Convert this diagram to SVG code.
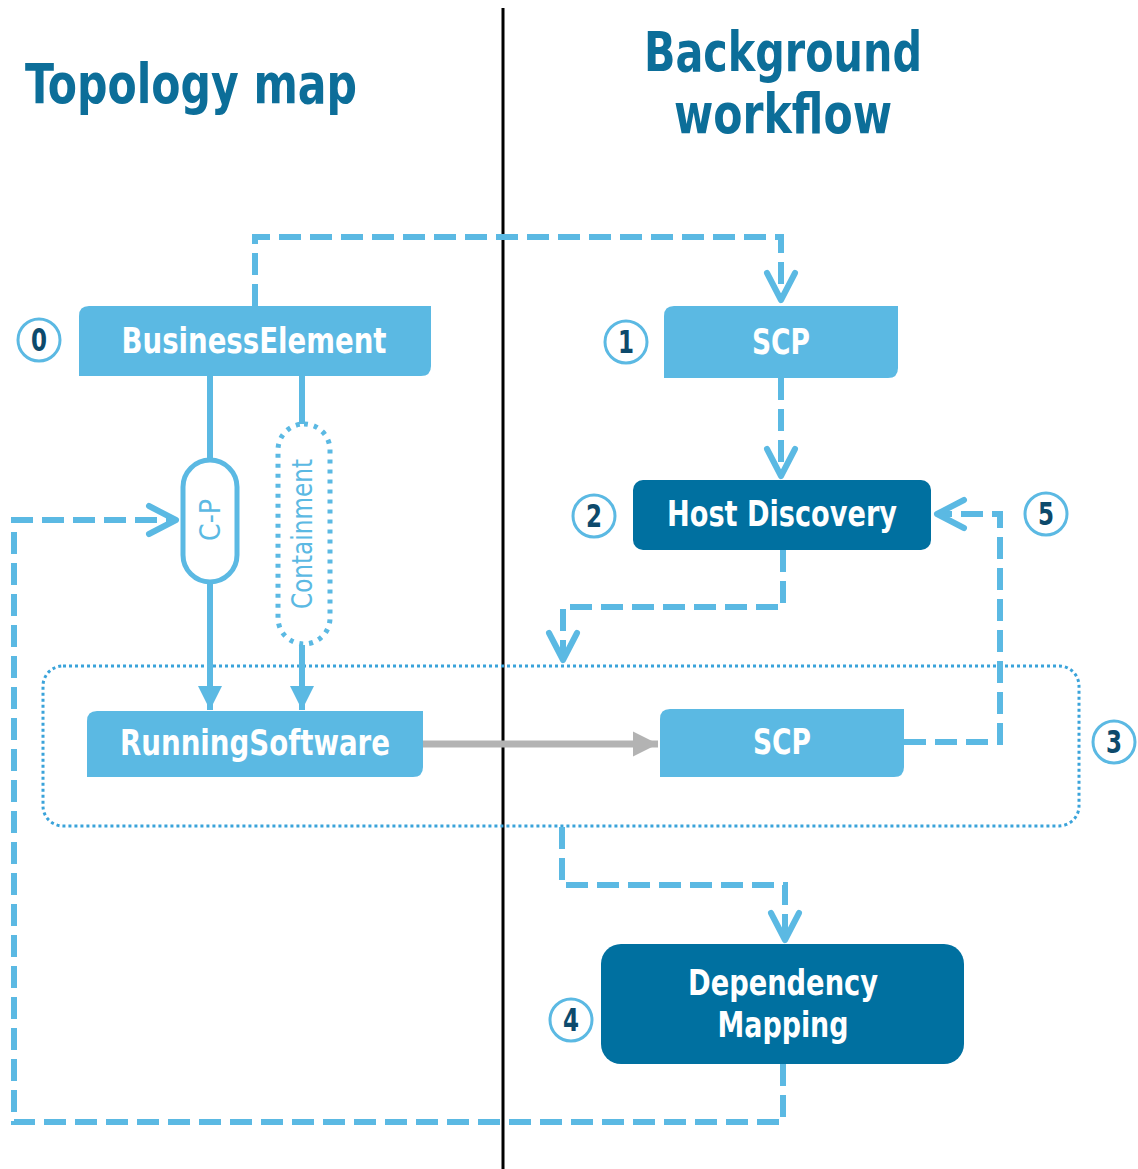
<svg xmlns="http://www.w3.org/2000/svg" width="1138" height="1169" viewBox="0 0 1138 1169">
<style>
.title{font-family:"DejaVu Sans Condensed","Liberation Sans",sans-serif;font-size:55px;font-weight:bold;fill:#0C6E99;text-anchor:middle}
.lbl{font-family:"DejaVu Sans Condensed","Liberation Sans",sans-serif;font-size:35px;font-weight:bold;fill:#fff;text-anchor:middle}
.num{font-family:"DejaVu Sans Condensed","Liberation Sans",sans-serif;font-size:32px;font-weight:bold;fill:#0D4A6C;text-anchor:middle}
.pilltxt{font-family:"DejaVu Sans Condensed","Liberation Sans",sans-serif;font-size:29px;fill:#5BB9E3;text-anchor:middle}
.light{fill:#5BB9E3}
.dark{fill:#0070A0}
.circ{fill:#fff;stroke:#5BB9E3;stroke-width:3}
.dash{fill:none;stroke:#5BB9E3;stroke-width:6;stroke-dasharray:22 9}
.solid{fill:none;stroke:#5BB9E3;stroke-width:6}
.openarr{fill:none;stroke:#5BB9E3;stroke-width:6;stroke-linecap:round;stroke-linejoin:round}
</style>
<defs>
<marker id="tri" viewBox="0 0 10 10" refX="10" refY="5" markerWidth="4" markerHeight="4" markerUnits="strokeWidth" orient="auto">
<path d="M0,0 L10,5 L0,10 z" fill="#5BB9E3"/>
</marker>
<marker id="grayTri" viewBox="0 0 10 10" refX="10" refY="5" markerWidth="3.6" markerHeight="4.6" markerUnits="strokeWidth" orient="auto">
<path d="M0,0 L10,5 L0,10 z" fill="#B3B3B3"/>
</marker>
</defs>
<rect width="1138" height="1169" fill="#fff"/>

<g id="divider"><line x1="503" y1="8" x2="503" y2="1169" stroke="#000" stroke-width="3"/></g>

<g id="titles">
<text class="title" x="191" y="103" textLength="332" lengthAdjust="spacingAndGlyphs">Topology map</text>
<text class="title" x="783" y="71" textLength="278" lengthAdjust="spacingAndGlyphs">Background</text>
<text class="title" x="783" y="133" textLength="218" lengthAdjust="spacingAndGlyphs">workflow</text>
</g>

<g id="group3">
<rect x="43" y="666" width="1036" height="160" rx="20" fill="none" stroke="#3AA3DA" stroke-width="3" stroke-dasharray="3 3"/>
</g>

<g id="connectors">
<path class="dash" d="M255,306 V237 H781 V300"/>
<path class="openarr" d="M767,273 L781,300 L795,273"/>
<path class="dash" d="M781,378 V476"/>
<path class="openarr" d="M767,449 L781,476 L795,449"/>
<path class="dash" d="M783,550 V607 H563 V660"/>
<path class="openarr" d="M549,633 L563,660 L577,633"/>
<path class="dash" d="M904,742 H1000 V514 H937"/>
<path class="openarr" d="M964,500 L937,514 L964,528"/>
<path class="dash" d="M562,827 V885 H785 V940"/>
<path class="openarr" d="M771,913 L785,940 L799,913"/>
<path class="dash" d="M783,1064 V1122 H14 V520 H176"/>
<path class="openarr" d="M149,506 L176,520 L149,534"/>
<path class="solid" d="M210,376 V460"/>
<path class="solid" d="M210,582 V710" marker-end="url(#tri)"/>
<path class="solid" d="M302,376 V424"/>
<path class="solid" d="M302,645 V710" marker-end="url(#tri)"/>
<path d="M423,744 H658" fill="none" stroke="#B3B3B3" stroke-width="7" marker-end="url(#grayTri)"/>
</g>

<g id="n0">
<path class="light" d="M89,306 H431 V366 Q431,376 421,376 H79 V316 Q79,306 89,306 Z"/>
<text class="lbl" x="254" y="353" textLength="265" lengthAdjust="spacingAndGlyphs">BusinessElement</text>
</g>
<g id="n1">
<path class="light" d="M674,306 H898 V368 Q898,378 888,378 H664 V316 Q664,306 674,306 Z"/>
<text class="lbl" x="781" y="354" textLength="58" lengthAdjust="spacingAndGlyphs">SCP</text>
</g>
<g id="n2">
<rect class="dark" x="633" y="480" width="298" height="70" rx="10"/>
<text class="lbl" x="782" y="526" textLength="230" lengthAdjust="spacingAndGlyphs">Host Discovery</text>
</g>
<g id="nRS">
<path class="light" d="M97,711 H423 V767 Q423,777 413,777 H87 V721 Q87,711 97,711 Z"/>
<text class="lbl" x="255" y="755" textLength="270" lengthAdjust="spacingAndGlyphs">RunningSoftware</text>
</g>
<g id="nSCP3">
<path class="light" d="M670,709 H904 V767 Q904,777 894,777 H660 V719 Q660,709 670,709 Z"/>
<text class="lbl" x="782" y="754" textLength="58" lengthAdjust="spacingAndGlyphs">SCP</text>
</g>
<g id="n4">
<rect class="dark" x="601" y="944" width="363" height="120" rx="20"/>
<text class="lbl" x="783" y="995" textLength="190" lengthAdjust="spacingAndGlyphs">Dependency</text>
<text class="lbl" x="783" y="1037" textLength="131" lengthAdjust="spacingAndGlyphs">Mapping</text>
</g>
<g id="pillCP">
<rect x="183" y="460" width="54" height="122" rx="27" fill="#fff" stroke="#5BB9E3" stroke-width="5"/>
<text class="pilltxt" transform="translate(210,520) rotate(-90)" y="10" textLength="42" lengthAdjust="spacingAndGlyphs">C-P</text>
</g>
<g id="pillContainment">
<rect x="278" y="424" width="52" height="220" rx="26" fill="#fff" stroke="#5BB9E3" stroke-width="5" stroke-dasharray="4 6"/>
<text class="pilltxt" transform="translate(302,534) rotate(-90)" y="10" textLength="150" lengthAdjust="spacingAndGlyphs">Containment</text>
</g>

<g id="c0"><circle class="circ" cx="39" cy="340" r="21"/><text class="num" x="39" y="351" textLength="16" lengthAdjust="spacingAndGlyphs">0</text></g>
<g id="c1"><circle class="circ" cx="626" cy="342" r="21"/><text class="num" x="626" y="353" textLength="16" lengthAdjust="spacingAndGlyphs">1</text></g>
<g id="c2"><circle class="circ" cx="594" cy="516" r="21"/><text class="num" x="594" y="527" textLength="16" lengthAdjust="spacingAndGlyphs">2</text></g>
<g id="c5"><circle class="circ" cx="1046" cy="514" r="21"/><text class="num" x="1046" y="525" textLength="16" lengthAdjust="spacingAndGlyphs">5</text></g>
<g id="c3"><circle class="circ" cx="1114" cy="742" r="21"/><text class="num" x="1114" y="753" textLength="16" lengthAdjust="spacingAndGlyphs">3</text></g>
<g id="c4"><circle class="circ" cx="571" cy="1020" r="21"/><text class="num" x="571" y="1031" textLength="16" lengthAdjust="spacingAndGlyphs">4</text></g>
</svg>
